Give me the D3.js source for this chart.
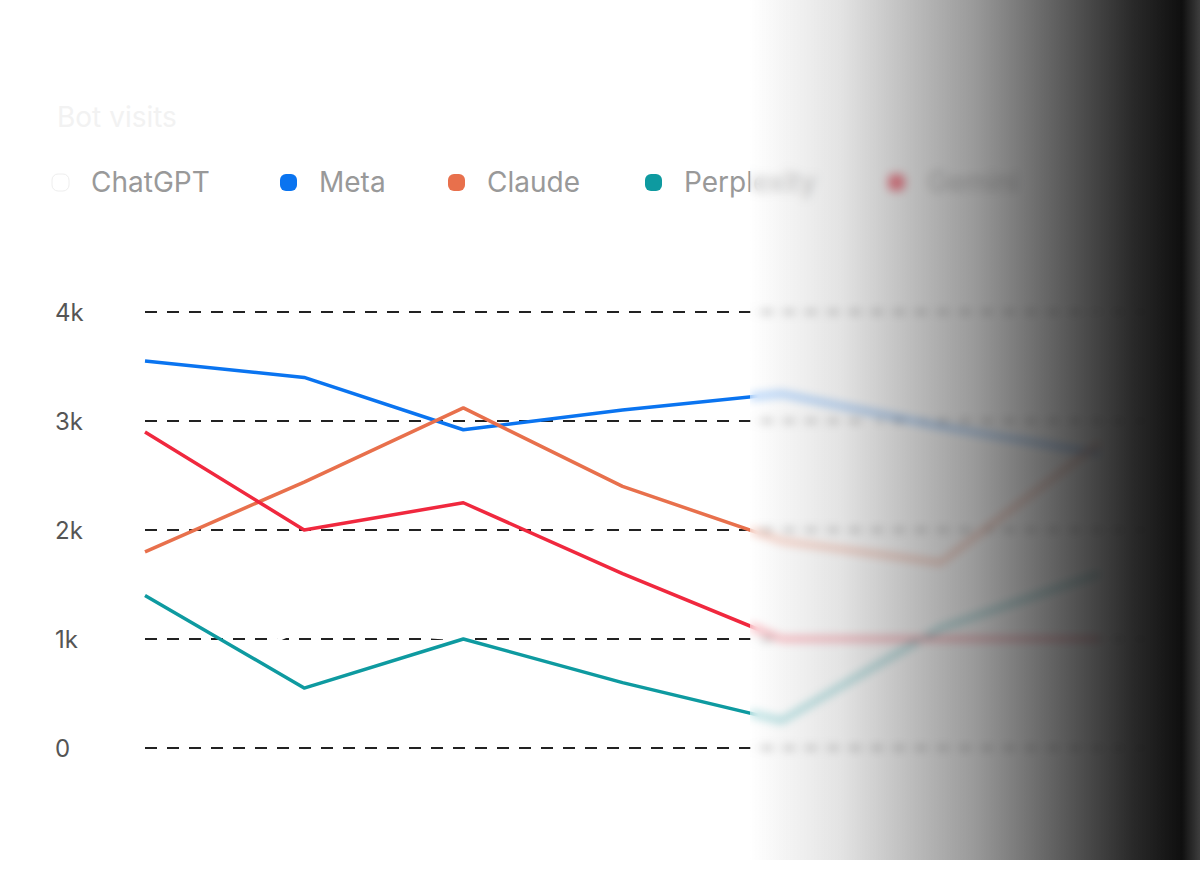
<!DOCTYPE html><html><head><meta charset="utf-8">
<script src="https://cdn.jsdelivr.net/npm/d3@7"></script>
<style>body{margin:0;background:#fff;font-family:Inter,"Noto Sans",sans-serif;overflow:hidden}
#ov{position:absolute;left:750px;top:0;width:450px;height:860px;backdrop-filter:blur(5px);-webkit-backdrop-filter:blur(5px);
background:linear-gradient(to right,rgba(255,255,255,0.4) 0%,rgba(200,200,200,0.5) 20%,rgba(110,110,110,0.7) 50%,rgba(30,30,30,0.95) 85%,rgba(15,15,15,1) 96%,rgba(40,40,40,0.9) 100%)}
</style></head><body>
<svg id="c" width="1200" height="882"></svg><div id="ov"></div>
<script>
const categories=["1","2","3","4","5","6","7"];
const seriesNames=["ChatGPT","Meta","Claude","Perplexity","Gemini"];
const colors=["#ffffff","#0a74f0","#e8704c","#0e9aa0","#f0283e"];
const chatgpt=[0.45,1.1,1.0,2.2,2.6,3.3,4.0];
const meta=[3.55,3.4,2.92,3.1,3.25,2.95,2.7];
const claude=[1.8,2.44,3.12,2.4,1.9,1.7,2.8];
const perplexity=[1.4,0.55,1.0,0.6,0.25,1.1,1.6];
const gemini=[2.9,2.0,2.25,1.6,1.0,1.0,1.0];
const yTicks=[0,1,2,3,4];
const tickLabels=["0","1k","2k","3k","4k"];
const data=[chatgpt,meta,claude,perplexity,gemini];
const svg=d3.select("#c");
const x=d3.scalePoint().domain(categories).range([145,1100]);
const y=d3.scaleLinear().domain([0,4]).range([748,312]);
svg.append("text").attr("x",57).attr("y",127).attr("font-size",28).attr("fill","#f2f2f2").text("Bot visits");
let pos=57;
seriesNames.forEach((n,i)=>{
  if(i>0)pos+=[0,228,168,197,243][i];
  const g=svg.append("g").attr("transform",`translate(${pos},182)`);
  g.append("rect").attr("x",-5).attr("y",-8).attr("width",17).attr("height",17).attr("rx",6).attr("fill",colors[i]).attr("stroke",i==0?"#eee":"none");
  g.append("text").attr("x",34).attr("y",10).attr("font-size",28).attr("fill","#999").text(n);
});
const ga=svg.append("g");
yTicks.forEach((t,i)=>{
  ga.append("line").attr("x1",145).attr("x2",1150).attr("y1",y(t)).attr("y2",y(t)).attr("stroke","#222").attr("stroke-width",2).attr("stroke-dasharray","12 10");
  ga.append("text").attr("x",55).attr("y",y(t)+9).attr("font-size",24).attr("fill","#555").text(tickLabels[i]);
});
const line=d3.line().x((d,i)=>x(categories[i])).y(d=>y(d));
data.forEach((s,i)=>svg.append("path").attr("d",line(s)).attr("fill","none").attr("stroke",colors[i]).attr("stroke-width",3.5).attr("stroke-linejoin","round"));
</script></body></html>
